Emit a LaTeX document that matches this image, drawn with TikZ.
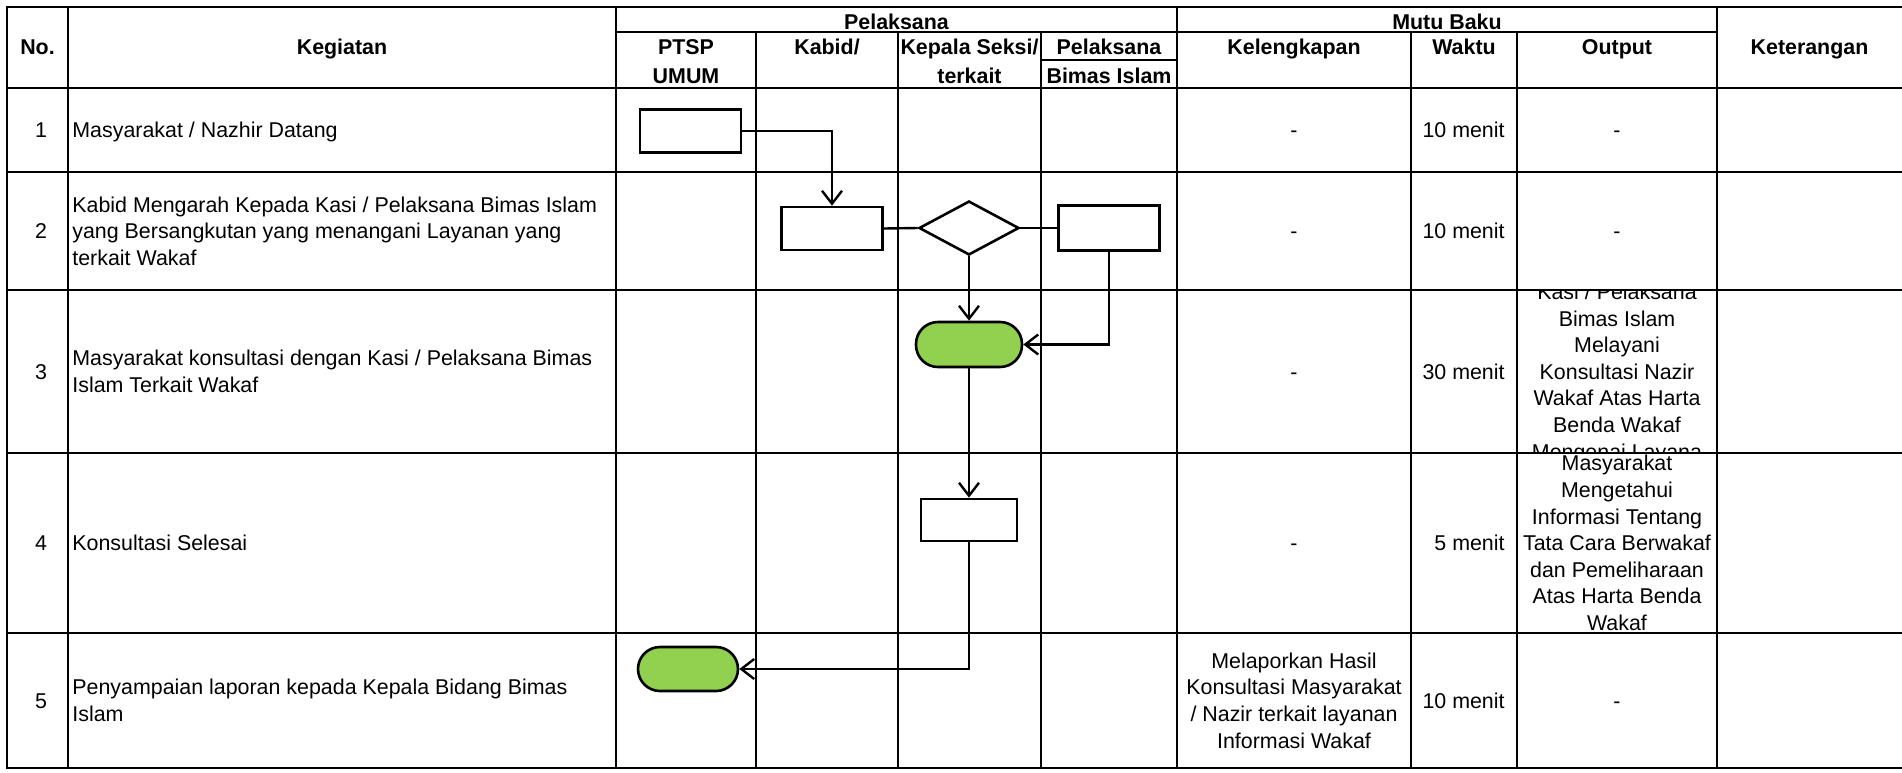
\documentclass[tikz,border=0pt]{standalone}
\usepackage{fontspec}
\setmainfont{Liberation Sans}
\usepackage{xcolor}
\usetikzlibrary{positioning,shapes,arrows.meta}
\definecolor{termgreen}{HTML}{92D050}

\begin{document}
\begin{tikzpicture}[x=0.5pt,y=-0.5pt,
            every node/.style={inner sep=0pt,font=\fontsize{10.7}{13.3}\selectfont},
            single/.style={text height=7.7pt,text depth=0pt},
            hd/.style={single,font=\fontsize{10.7}{13.3}\selectfont\bfseries},
            grid/.style={line width=1.45pt,line cap=rect},
            box/.style={rectangle,draw=black,fill=white,line width=1.3pt,minimum width=50.5pt,minimum height=21.5pt},
            decide/.style={diamond,draw=black,fill=white,line width=1.3pt,minimum width=50pt,minimum height=27pt},
            term/.style={rectangle,rounded corners=11pt,draw=black,fill=termgreen,line width=1.3pt,minimum width=53pt,minimum height=22.5pt},
            link/.style={line width=1.2pt},
            flow/.style={link,-{Straight Barb[length=6.5pt,width=10pt]}}]

            \useasboundingbox (0,0) rectangle (1902,772);

            % header
            \node[hd] (hNo) at (37.5,46.3) {No.};
            \node[hd] (hKeg) at (342,46.3) {Kegiatan};
            \node[hd] (hPel) at (896.5,21.5) {Pelaksana};
            \node[hd] (hMutu) at (1447,21.5) {Mutu Baku};
            \node[hd] (hPtsp) at (686,46.3) {PTSP};
            \node[hd] (hUmum) at (686,75.5) {UMUM};
            \node[hd] (hKabid) at (827,46.3) {Kabid/};
            \node[hd] (hKasi) at (969.5,46.3) {Kepala Seksi/};
            \node[hd] (hTerkait) at (969.5,75.5) {terkait};
            \node[hd] (hPlk) at (1109,46.3) {Pelaksana};
            \node[hd] (hBimas) at (1109,75.5) {Bimas Islam};
            \node[hd] (hKel) at (1294,46.3) {Kelengkapan};
            \node[hd] (hWaktu) at (1464,46.3) {Waktu};
            \node[hd] (hOut) at (1617,46.3) {Output};
            \node[hd] (hKet) at (1809.5,46.3) {Keterangan};

            % rows
            \node[single] (n1) at (41,130) {1};
            \node[single] (n2) at (41,231) {2};
            \node[single] (n3) at (41,371.5) {3};
            \node[single] (n4) at (41,543) {4};
            \node[single] (n5) at (41,700.5) {5};

            \node[single,anchor=west] (keg1) at (72,130) {Masyarakat / Nazhir Datang};
            \node[align=left,anchor=west] (keg2) at (72,231) {Kabid Mengarah Kepada Kasi / Pelaksana Bimas Islam\\yang Bersangkutan yang menangani Layanan yang\\terkait Wakaf};
            \node[align=left,anchor=west] (keg3) at (72,371.5) {Masyarakat konsultasi dengan Kasi / Pelaksana Bimas\\Islam Terkait Wakaf};
            \node[single,anchor=west] (keg4) at (72,543) {Konsultasi Selesai};
            \node[align=left,anchor=west] (keg5) at (72,700.5) {Penyampaian laporan kepada Kepala Bidang Bimas\\Islam};

            \node[single] (kel1) at (1294,130) {-};
            \node[single] (kel2) at (1294,231) {-};
            \node[single] (kel3) at (1294,371.5) {-};
            \node[single] (kel4) at (1294,543) {-};
            \node[align=center] (kel5) at (1294,700.5) {Melaporkan Hasil\\Konsultasi Masyarakat\\/ Nazir terkait layanan\\Informasi Wakaf};

            \node[single,anchor=east] (w1) at (1505,130) {10 menit};
            \node[single,anchor=east] (w2) at (1505,231) {10 menit};
            \node[single,anchor=east] (w3) at (1505,371.5) {30 menit};
            \node[single,anchor=east] (w4) at (1505,543) {5 menit};
            \node[single,anchor=east] (w5) at (1505,700.5) {10 menit};

            \node[single] (out1) at (1617,130) {-};
            \node[single] (out2) at (1617,231) {-};
            \begin{scope}
               \clip (1517,290) rectangle (1717,453);
               \node[align=center] (out3) at (1617,373.7) {Kasi / Pelaksana\\Bimas Islam\\Melayani\\Konsultasi Nazir\\Wakaf Atas Harta\\Benda Wakaf\\Mengenai Layana};
            \end{scope}
            \begin{scope}
               \clip (1517,453) rectangle (1717,633);
               \node[align=center] (out4) at (1617,543) {Masyarakat\\Mengetahui\\Informasi Tentang\\Tata Cara Berwakaf\\dan Pemeliharaan\\Atas Harta Benda\\Wakaf};
            \end{scope}
            \node[single] (out5) at (1617,700.5) {-};

            % table lines
            \draw[grid] (7,7) -- (1902,7) (616,32) -- (1717,32) (1041,60) -- (1177,60)
               (7,88) -- (1902,88) (7,172) -- (1902,172) (7,290) -- (1902,290)
               (7,453) -- (1902,453) (7,633) -- (1902,633) (7,768) -- (1902,768);
            \draw[grid] (7,7) -- (7,768) (68,7) -- (68,768) (616,7) -- (616,768)
               (756,32) -- (756,768) (898,32) -- (898,768) (1041,32) -- (1041,768)
               (1177,7) -- (1177,768) (1411,32) -- (1411,768) (1517,32) -- (1517,768)
               (1717,7) -- (1717,768);

            % flow
            \node[box] (b1) at (690.5,131) {};
            \node[box] (b2) at (832,228.5) {};
            \node[decide] (d2) at (969,228) {};
            \node[box,minimum height=22.5pt] (b3) [right=18.5pt of d2] {};
            \node[term] (t3) at (969,344.5) {};
            \node[box,minimum width=48pt,minimum height=21pt] (b4) at (969,520) {};
            \node[term,minimum width=50pt,minimum height=22pt] (t5) at (688,669) {};

            \draw[flow] (b1.east) -| (b2.north);
            \draw[link] (b2.east) -- (d2.west);
            \draw[link] (d2.east) -- (b3.west);
            \draw[flow] (d2.south) -- (t3.north);
            \draw[flow] (b3.south) |- (t3.east);
            \draw[flow] (t3.south) -- (b4.north);
            \draw[flow] (b4.south) |- (t5.east);
         \end{tikzpicture}
\end{document}
